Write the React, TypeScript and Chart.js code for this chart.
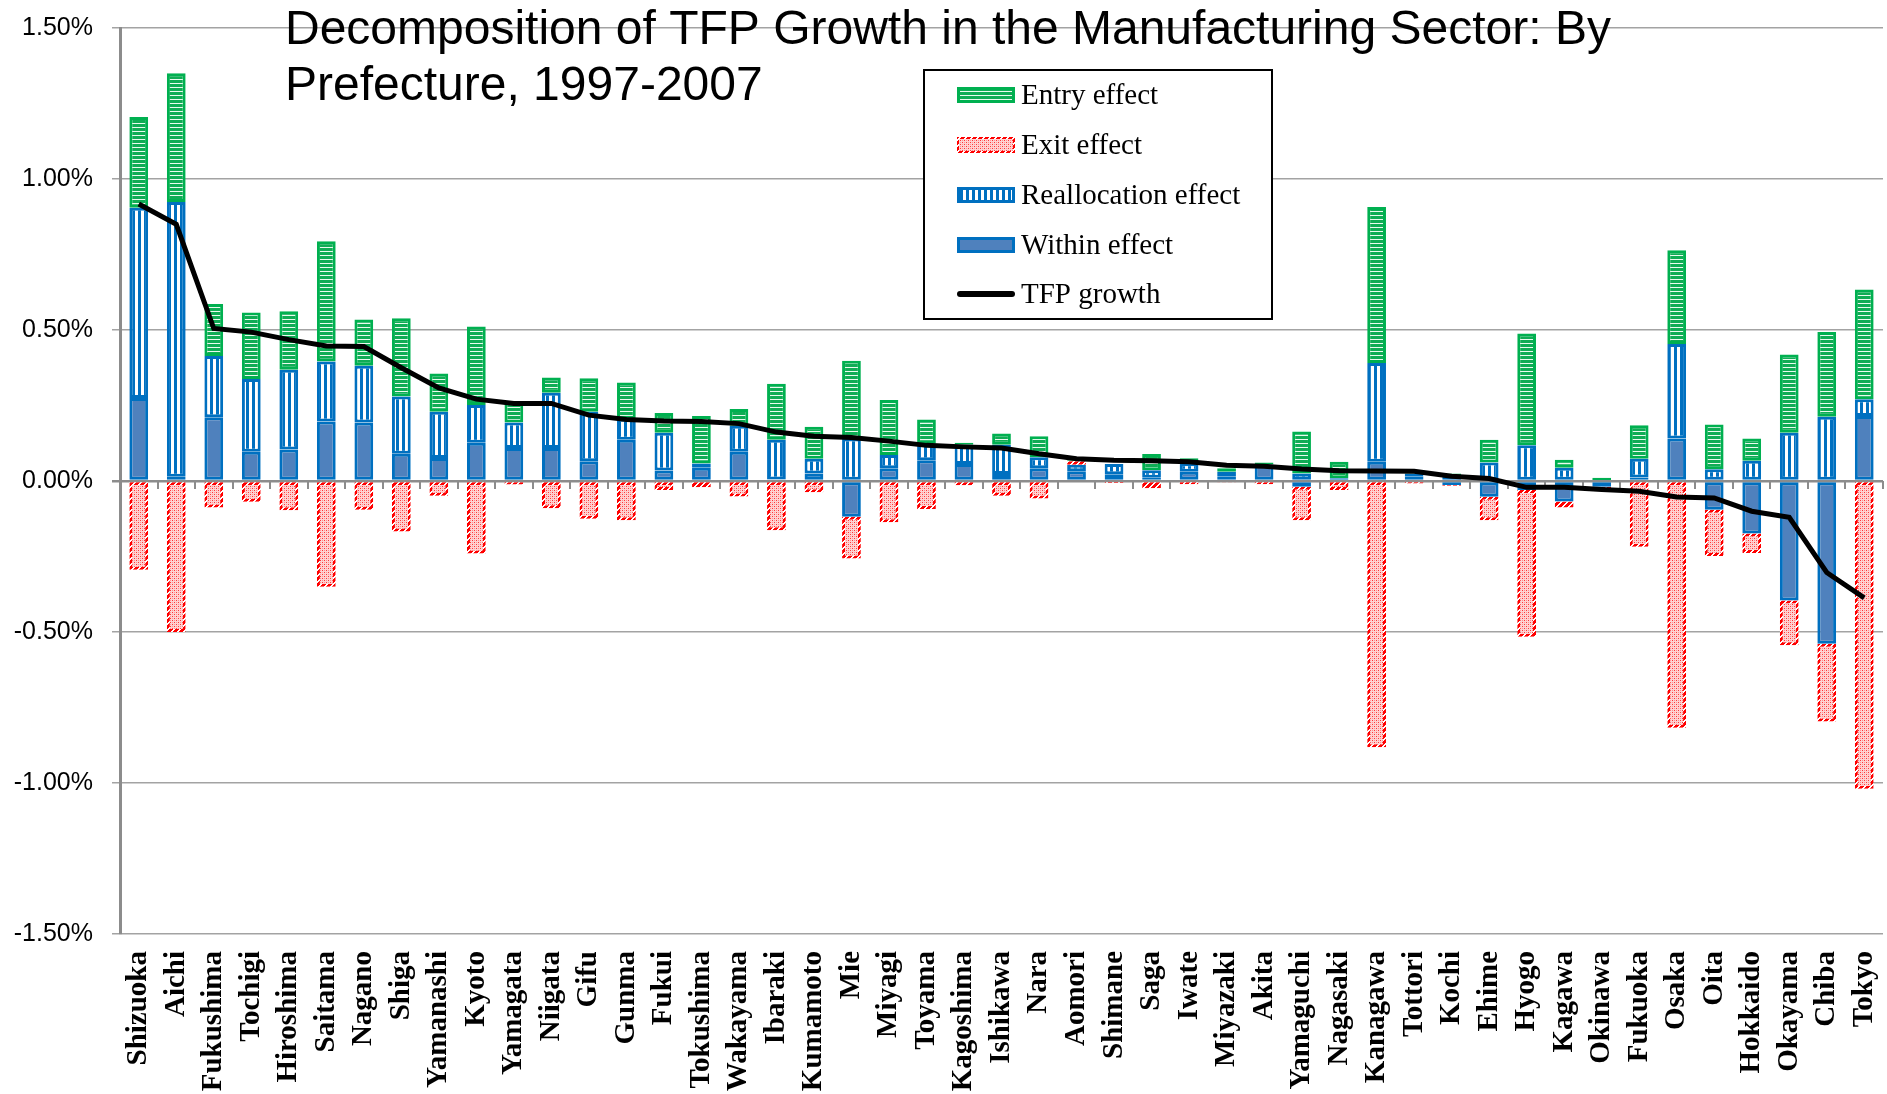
import React, { useEffect, useRef } from 'react';
import { Chart, registerables } from 'chart.js';

Chart.register(...registerables);

const categories = [
  'Shizuoka', 'Aichi', 'Fukushima', 'Tochigi', 'Hiroshima', 'Saitama', 'Nagano', 'Shiga',
  'Yamanashi', 'Kyoto', 'Yamagata', 'Niigata', 'Gifu', 'Gunma', 'Fukui', 'Tokushima',
  'Wakayama', 'Ibaraki', 'Kumamoto', 'Mie', 'Miyagi', 'Toyama', 'Kagoshima', 'Ishikawa',
  'Nara', 'Aomori', 'Shimane', 'Saga', 'Iwate', 'Miyazaki', 'Akita', 'Yamaguchi',
  'Nagasaki', 'Kanagawa', 'Tottori', 'Kochi', 'Ehime', 'Hyogo', 'Kagawa', 'Okinawa',
  'Fukuoka', 'Osaka', 'Oita', 'Hokkaido', 'Okayama', 'Chiba', 'Tokyo',
];

// values in percent
const withinEffect = [
  0.275, 0.014, 0.211, 0.097, 0.104, 0.197, 0.194, 0.090,
  0.076, 0.127, 0.109, 0.109, 0.065, 0.137, 0.035, 0.044,
  0.097, 0.005, 0.025, -0.118, 0.042, 0.069, 0.056, 0.023,
  0.042, 0.032, 0.022, 0.011, 0.031, 0.014, 0.055, -0.019,
  0.004, 0.064, 0.014, -0.013, -0.052, -0.030, -0.068, -0.019,
  0.012, 0.141, -0.095, -0.174, -0.396, -0.539, 0.215,
];

const reallocationEffect = [
  0.630, 0.910, 0.203, 0.241, 0.264, 0.199, 0.188, 0.190,
  0.153, 0.125, 0.085, 0.183, 0.164, 0.069, 0.125, 0.014,
  0.086, 0.132, 0.049, 0.141, 0.044, 0.054, 0.064, 0.097,
  0.037, 0.022, 0.034, 0.025, 0.028, 0.017, 0.000, 0.025,
  0.005, 0.327, 0.011, 0.017, 0.061, 0.118, 0.044, 0.003,
  0.062, 0.313, 0.039, 0.067, 0.160, 0.213, 0.056,
];

const exitEffect = [
  -0.294, -0.500, -0.088, -0.069, -0.097, -0.350, -0.095, -0.167,
  -0.049, -0.240, -0.012, -0.090, -0.125, -0.130, -0.030, -0.021,
  -0.051, -0.163, -0.037, -0.139, -0.137, -0.093, -0.014, -0.049,
  -0.058, 0.011, -0.007, -0.024, -0.011, -0.003, -0.011, -0.111,
  -0.030, -0.882, -0.008, -0.003, -0.078, -0.486, -0.020, -0.012,
  -0.218, -0.817, -0.153, -0.064, -0.148, -0.257, -1.019,
];

const entryEffect = [
  0.300, 0.426, 0.172, 0.220, 0.194, 0.398, 0.153, 0.259,
  0.127, 0.260, 0.068, 0.051, 0.111, 0.120, 0.065, 0.157,
  0.055, 0.185, 0.106, 0.257, 0.182, 0.081, 0.007, 0.037,
  0.069, 0.004, 0.000, 0.053, 0.016, 0.011, 0.006, 0.139,
  0.055, 0.516, 0.011, 0.008, 0.076, 0.370, 0.026, 0.008,
  0.111, 0.310, 0.148, 0.074, 0.259, 0.280, 0.363,
];

const tfpGrowth = [
  0.917, 0.850, 0.505, 0.493, 0.468, 0.447, 0.445, 0.375,
  0.308, 0.271, 0.257, 0.257, 0.218, 0.204, 0.199, 0.197,
  0.190, 0.162, 0.148, 0.144, 0.132, 0.118, 0.113, 0.109,
  0.090, 0.074, 0.069, 0.067, 0.064, 0.052, 0.049, 0.040,
  0.034, 0.033, 0.032, 0.016, 0.008, -0.021, -0.021, -0.028,
  -0.034, -0.053, -0.056, -0.100, -0.120, -0.303, -0.387,
];

const yMin = -1.5;
const yMax = 1.5;
const yStep = 0.5;

const titleLines = [
  'Decomposition of TFP Growth in the Manufacturing Sector: By',
  'Prefecture, 1997-2007',
];

const legendLabels = ['Entry effect', 'Exit effect', 'Reallocation effect', 'Within effect', 'TFP growth'];

const GREEN = '#00B050';
const BLUE = '#0070C0';
const WITHIN_FILL = '#4F81BD';

function makePattern(w: number, h: number, draw: (g: CanvasRenderingContext2D) => void) {
  const c = document.createElement('canvas');
  c.width = w;
  c.height = h;
  const g = c.getContext('2d') as CanvasRenderingContext2D;
  draw(g);
  return g.createPattern(c, 'repeat') as CanvasPattern;
}

export default function App() {
  const canvasRef = useRef<HTMLCanvasElement | null>(null);

  useEffect(() => {
    document.body.style.margin = '0';
    document.body.style.overflow = 'hidden';
    const canvas = canvasRef.current;
    if (!canvas) return;

    const entryPattern = makePattern(1, 4, (g) => {
      g.fillStyle = '#10AC55';
      g.fillRect(0, 0, 1, 3);
      g.fillStyle = '#EAFBEF';
      g.fillRect(0, 3, 1, 1);
    });
    const reallocPattern = makePattern(6, 1, (g) => {
      g.fillStyle = '#FFFFFF';
      g.fillRect(0, 0, 6, 1);
      g.fillStyle = BLUE;
      g.fillRect(0, 0, 3, 1);
    });
    const exitPattern = makePattern(4, 4, (g) => {
      g.fillStyle = '#FFD2D2';
      g.fillRect(0, 0, 4, 4);
      g.fillStyle = '#FF3838';
      g.fillRect(0, 0, 1, 1);
      g.fillRect(2, 2, 1, 1);
      g.fillStyle = '#FF9090';
      g.fillRect(2, 0, 1, 1);
      g.fillRect(0, 2, 1, 1);
    });
    const exitBorder = makePattern(6, 6, (g) => {
      for (let x = 0; x < 6; x++) {
        for (let y = 0; y < 6; y++) {
          g.fillStyle = (x + y) % 6 < 4 ? '#FF0000' : '#FFFFFF';
          g.fillRect(x, y, 1, 1);
        }
      }
    });

    const decorPlugin = {
      id: 'decor',
      beforeDatasetsDraw(chart: any) {
        const { ctx, scales } = chart;
        const xs = scales.x;
        const ys = scales.y;
        const y0 = ys.getPixelForValue(0);
        const n = categories.length;
        const step = (xs.right - xs.left) / n;
        ctx.save();
        ctx.strokeStyle = '#8c8c8c';
        ctx.lineWidth = 2;
        for (let i = 1; i <= n; i++) {
          const x = Math.round(xs.left + i * step);
          ctx.beginPath();
          ctx.moveTo(x, y0);
          ctx.lineTo(x, y0 + 8);
          ctx.stroke();
        }
        ctx.restore();
      },
      afterDraw(chart: any) {
        const { ctx } = chart;
        ctx.save();
        // Title
        ctx.fillStyle = '#000000';
        ctx.font = '48px "Liberation Sans", Arial, sans-serif';
        ctx.textBaseline = 'alphabetic';
        ctx.textAlign = 'left';
        ctx.fillText(titleLines[0], 285, 44);
        ctx.fillText(titleLines[1], 285, 100);

        // Legend
        const bx = 924, by = 70, bw = 348, bh = 249;
        ctx.fillStyle = '#FFFFFF';
        ctx.fillRect(bx, by, bw, bh);
        ctx.strokeStyle = '#000000';
        ctx.lineWidth = 2;
        ctx.strokeRect(bx, by, bw, bh);

        const rowY = [95, 145, 195, 245, 294];
        const sx = 957, sw = 58, sh = 16;
        const swatch = (i: number, border: any, fill: any, bwid: number) => {
          const y = rowY[i] - sh / 2;
          ctx.fillStyle = border;
          ctx.fillRect(sx, y, sw, sh);
          ctx.fillStyle = fill;
          ctx.fillRect(sx + bwid, y + bwid, sw - 2 * bwid, sh - 2 * bwid);
        };
        swatch(0, GREEN, entryPattern, 3);
        swatch(1, exitBorder, exitPattern, 2);
        swatch(2, BLUE, reallocPattern, 3);
        swatch(3, BLUE, WITHIN_FILL, 3);
        ctx.strokeStyle = '#000000';
        ctx.lineWidth = 6;
        ctx.lineCap = 'round';
        ctx.beginPath();
        ctx.moveTo(sx + 3, rowY[4]);
        ctx.lineTo(sx + sw - 3, rowY[4]);
        ctx.stroke();

        ctx.fillStyle = '#000000';
        ctx.font = '29px "Liberation Serif", "Times New Roman", serif';
        ctx.textBaseline = 'alphabetic';
        legendLabels.forEach((t, i) => {
          ctx.fillText(t, 1021, rowY[i] + 9);
        });
        ctx.restore();
      },
    };

    const barCommon = {
      type: 'bar' as const,
      stack: 'effects',
      order: 1,
      barPercentage: 0.5,
      categoryPercentage: 1,
      borderWidth: 3,
      borderSkipped: false,
    };

    const chart = new Chart(canvas, {
      type: 'bar',
      data: {
        labels: categories,
        datasets: [
          { ...barCommon, label: 'Within effect', data: withinEffect, backgroundColor: WITHIN_FILL, borderColor: BLUE } as any,
          { ...barCommon, label: 'Reallocation effect', data: reallocationEffect, backgroundColor: reallocPattern, borderColor: BLUE } as any,
          { ...barCommon, label: 'Exit effect', data: exitEffect, backgroundColor: exitPattern, borderColor: exitBorder } as any,
          { ...barCommon, label: 'Entry effect', data: entryEffect, backgroundColor: entryPattern, borderColor: GREEN } as any,
          {
            type: 'line',
            label: 'TFP growth',
            data: tfpGrowth,
            borderColor: '#000000',
            backgroundColor: '#000000',
            borderWidth: 5,
            pointRadius: 0,
            pointHoverRadius: 0,
            tension: 0,
            order: 0,
            stack: 'tfp',
          } as any,
        ],
      },
      options: {
        animation: false,
        responsive: true,
        maintainAspectRatio: false,
        devicePixelRatio: 1,
        layout: { padding: { top: 28, right: 4, left: 0, bottom: 0 } },
        plugins: {
          legend: { display: false },
          title: { display: false },
          tooltip: { enabled: false },
        },
        scales: {
          x: {
            stacked: true,
            grid: { display: false, drawTicks: false },
            border: { display: false },
            ticks: {
              autoSkip: false,
              maxRotation: 90,
              minRotation: 90,
              padding: 17,
              color: '#000000',
              font: { family: '"Liberation Serif", "Times New Roman", serif', size: 29, weight: 'bold' },
            },
            afterFit: (scale: any) => {
              scale.height = 160;
              scale.paddingLeft = 0;
              scale.paddingRight = 0;
            },
          },
          y: {
            stacked: true,
            min: yMin,
            max: yMax,
            ticks: {
              stepSize: yStep,
              padding: 19,
              color: '#000000',
              font: { family: '"Liberation Sans", Arial, sans-serif', size: 25 },
              callback: (v: any) => Number(v).toFixed(2) + '%',
            },
            grid: {
              color: (c: any) => (c.tick && Math.abs(c.tick.value) < 1e-9 ? '#8c8c8c' : '#a3a3a3'),
              lineWidth: (c: any) => (c.tick && Math.abs(c.tick.value) < 1e-9 ? 2.5 : 1.5),
              drawTicks: true,
              tickLength: 8,
            },
            border: { display: true, color: '#8c8c8c', width: 3 },
            afterFit: (scale: any) => {
              scale.width = 120;
              scale.paddingTop = 0;
              scale.paddingBottom = 0;
            },
          },
        },
      } as any,
      plugins: [decorPlugin],
    });

    return () => {
      chart.destroy();
    };
  }, []);

  return (
    <div style={{ width: '1887px', height: '1094px', position: 'relative' }}>
      <canvas ref={canvasRef} />
    </div>
  );
}
